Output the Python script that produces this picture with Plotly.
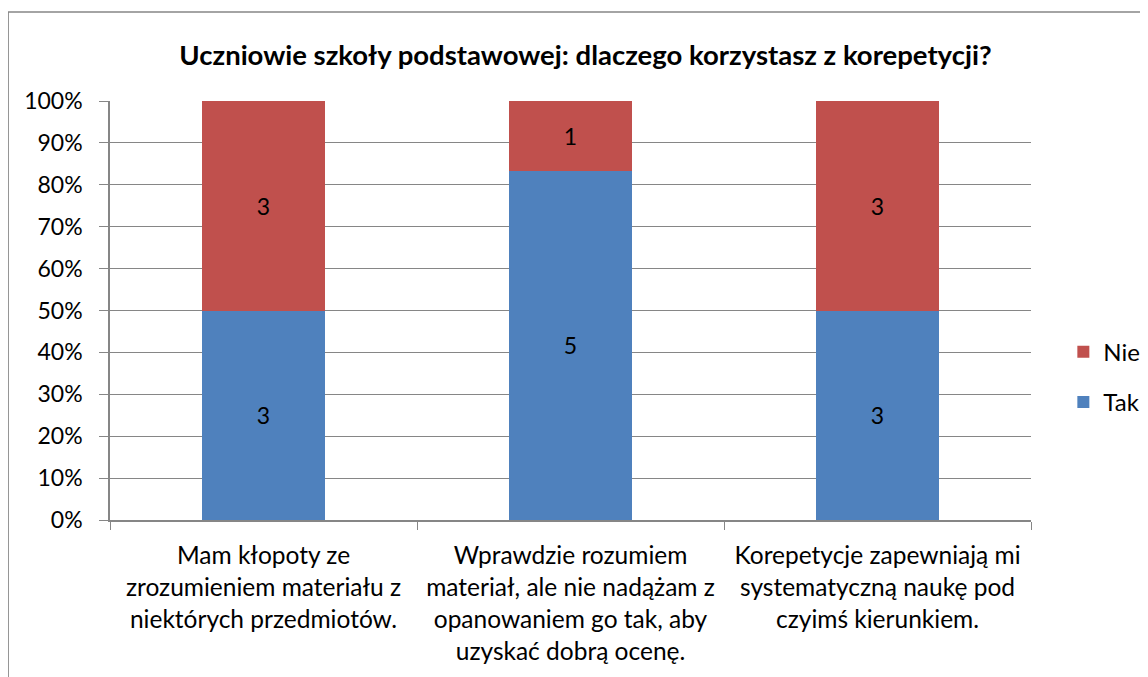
import plotly.graph_objects as go

categories = [
    "Mam kłopoty ze<br>zrozumieniem materiału z<br>niektórych przedmiotów.",
    "Wprawdzie rozumiem<br>materiał, ale nie nadążam z<br>opanowaniem go tak, aby<br>uzyskać dobrą ocenę.",
    "Korepetycje zapewniają mi<br>systematyczną naukę pod<br>czyimś kierunkiem.",
]
tak = [3, 5, 3]
nie = [3, 1, 3]
y_ticks = list(range(0, 101, 10))
y_labels = [f"{v}%" for v in y_ticks]

FONT = "Lato"
GRID = "#868686"
FS = 23

fig = go.Figure()
fig.add_trace(go.Bar(name="Tak", x=categories, y=tak, text=[str(v) for v in tak],
                     marker=dict(color="#4F81BD", line=dict(width=0)),
                     textposition="inside", insidetextanchor="middle",
                     textfont=dict(color="black", size=FS, family=FONT),
                     legendgroup="tak", legendrank=2))
fig.add_trace(go.Bar(name="Nie", x=categories, y=nie, text=[str(v) for v in nie],
                     marker=dict(color="#C0504D", line=dict(width=0)),
                     textposition="inside", insidetextanchor="middle",
                     textfont=dict(color="black", size=FS, family=FONT),
                     legendgroup="nie", legendrank=1))

# page body adds an 8px offset; figure coords = screen coords - 8
fig.update_layout(
    barmode="stack", barnorm="percent", bargap=0.6,
    width=1148, height=677,
    margin=dict(l=102, r=124, t=93, b=165),
    paper_bgcolor="white", plot_bgcolor="white",
    font=dict(family=FONT, size=FS, color="black"),
    title=dict(text="<b>Uczniowie szkoły podstawowej: dlaczego korzystasz z korepetycji?</b>",
               x=0.503, xanchor="center", y=1 - 47 / 677, yanchor="middle",
               font=dict(size=27.5, family=FONT, color="black")),
    legend=dict(x=1.034, xanchor="left", y=0.341, yanchor="middle",
                traceorder="grouped", tracegroupgap=16,
                font=dict(size=24, family=FONT), itemwidth=30),
)
fig.update_yaxes(range=[0, 100], tickvals=y_ticks, ticktext=y_labels,
                 showgrid=True, gridcolor=GRID, gridwidth=1,
                 showline=True, linecolor=GRID, linewidth=1.5,
                 ticks="outside", ticklen=9, tickcolor=GRID,
                 tickfont=dict(size=FS, family=FONT), zeroline=False,
                 ticklabelstandoff=12)
fig.update_xaxes(showline=True, linecolor=GRID, linewidth=1.5,
                 ticks="outside", ticklen=8, tickcolor=GRID, tickson="boundaries",
                 tickfont=dict(size=24.5, family=FONT), showgrid=False,
                 ticklabelstandoff=13)

# outer chart border (left and top visible)
fig.add_shape(type="rect", xref="paper", yref="paper",
              x0=(0 - 102) / 922, x1=1.3, y0=-0.6, y1=(512 - 4) / 419,
              line=dict(color="#868686", width=1.5), layer="below")

fig.write_html("out.html")
